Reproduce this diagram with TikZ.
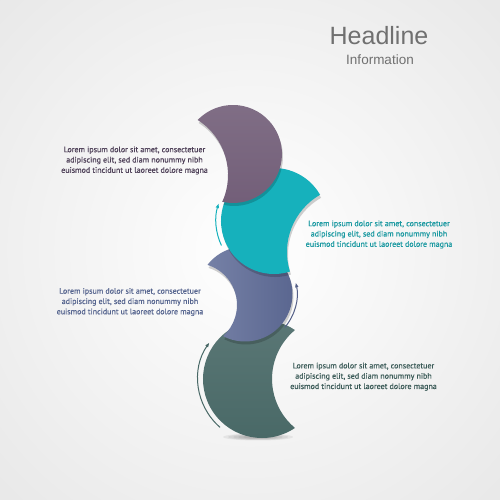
\documentclass[tikz,border=0pt]{standalone}
\usepackage{fontspec}
\setmainfont{PT Sans}
\newfontfamily\lorefont{PT Sans}[FakeBold=0.5]
\newfontfamily\headfont{Liberation Sans}
\usetikzlibrary{arrows.meta}

\definecolor{plum}{HTML}{725E78}
\definecolor{plumtext}{HTML}{4E4058}
\definecolor{lagoon}{HTML}{16B1BC}
\definecolor{lagoontext}{HTML}{1898A0}
\definecolor{slate}{HTML}{5D6A96}
\definecolor{slatetext}{HTML}{56658F}
\definecolor{pine}{HTML}{486866}
\definecolor{pinetext}{HTML}{3A5A57}
\definecolor{headgray}{HTML}{707070}

% crescent outlines (outer arc, then the bite arc back)
\newcommand{\pinemoon}{(294.94,72.05) arc[start angle=-56.06, end angle=-303.94, radius=59] arc[start angle=-230.2, end angle=-129.8, radius=63.7] -- cycle}
\newcommand{\slatemoon}{(223.14,163.83) arc[start angle=-117.4, end angle=142.2, radius=47.5] arc[start angle=72.7, end angle=-47.9, radius=42] -- cycle}
\newcommand{\lagoonmoon}{(289.97,228.46) arc[start angle=-72.46, end angle=-330.35, radius=53] arc[start angle=-240.1, end angle=-162.8, radius=66] -- cycle}
\newcommand{\plummoon}{(222.2,298.2) arc[start angle=-102.7, end angle=136.1, radius=49] arc[start angle=57.8, end angle=-24.4, radius=65] -- cycle}

\begin{document}
\begin{tikzpicture}[x=1pt,y=1pt,
	lorem/.style={align=center, inner sep=0pt, font=\lorefont\fontsize{8}{10.3}\selectfont},
	turn/.style={-{Latex[length=5pt,width=3.6pt]}, line width=1pt},
	moonshadow/.style={black, opacity=0.18}]
		
		% background
		\begin{scope}
			\clip (0,0) rectangle (500,500);
			\shade[inner color=white, outer color=black!15] (250,250) circle (600);
		\end{scope}
		\useasboundingbox (0,0) rectangle (500,500);
		
		% centres of the crescents
		\coordinate (pinec) at (262,121);
		\coordinate (slatec) at (245,206);
		\coordinate (lagoonc) at (274,279);
		
		% floor shadow
		\foreach \k in {1,...,5}{
			\fill[black, opacity=0.06] (258,63) ellipse ({40-5*\k} and {4-0.5*\k});
		}
		
		% crescents, bottom to top
		\shade[top color=pine!90!white, bottom color=pine] \pinemoon;
		\fill[moonshadow, shift={(1,-3)}] \slatemoon;
		\shade[left color=slate!85!white, right color=slate!95!black] \slatemoon;
		\fill[moonshadow, shift={(1,-3)}] \lagoonmoon;
		\fill[lagoon] \lagoonmoon;
		\fill[moonshadow, shift={(1,-3)}] \plummoon;
		\shade[top color=plum!90!white, bottom color=plum] \plummoon;
		
		% arrows round the crescents
		\draw[turn, lagoon] (lagoonc) ++(205:58) arc[start angle=205, end angle=162, radius=58];
		\draw[turn, slate!90!black] (slatec) ++(-40:52) arc[start angle=-40, end angle=13, radius=52];
		\draw[turn, pine] (pinec) ++(229:64) arc[start angle=229, end angle=145, radius=64];
		
		% texts
		\node[lorem, text=plumtext] (plumnote) at (134.5,339.5) {Lorem ipsum dolor sit amet, consectetuer\\adipiscing elit, sed diam nonummy nibh\\euismod tincidunt ut laoreet dolore magna};
		\node[lorem, text=lagoontext] (lagoonnote) at (379,265.5) {Lorem ipsum dolor sit amet, consectetuer\\adipiscing elit, sed diam nonummy nibh\\euismod tincidunt ut laoreet dolore magna};
		\node[lorem, text=slatetext] (slatenote) at (130,198) {Lorem ipsum dolor sit amet, consectetuer\\adipiscing elit, sed diam nonummy nibh\\euismod tincidunt ut laoreet dolore magna};
		\node[lorem, text=pinetext] (pinenote) at (363.5,123.3) {Lorem ipsum dolor sit amet, consectetuer\\adipiscing elit, sed diam nonummy nibh\\euismod tincidunt ut laoreet dolore magna};
		
		% headline
		\node[anchor=base, inner sep=0pt, text=headgray, font=\headfont\fontsize{25}{25}\selectfont] (headline) at (379,455) {Headline};
		\node[anchor=base, inner sep=0pt, text=headgray, font=\headfont\fontsize{13.5}{14}\selectfont] (information) at (380,435) {Information};
		
	\end{tikzpicture}
\end{document}
